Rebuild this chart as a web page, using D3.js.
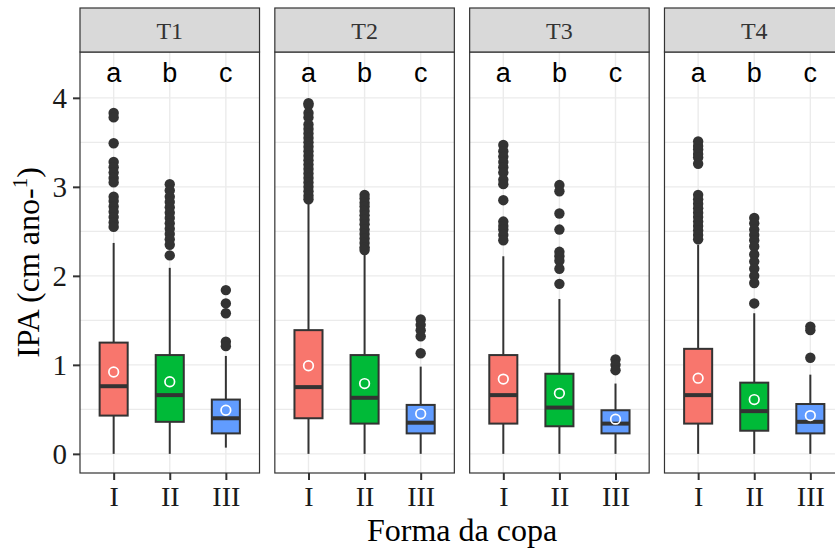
<!DOCTYPE html>
<html>
<head>
<meta charset="utf-8">
<script src="https://cdn.jsdelivr.net/npm/d3@7"></script>
<style>
  body { margin: 0; background: #fff; }
  svg { display: block; }
</style>
</head>
<body>
<script>
(function(){
   var width = 835;
   var height = 550;

   // facets, categories, colours
   var panels = ["T1", "T2", "T3", "T4"];
   var forms = ["I", "II", "III"];
   var letters = ["a", "b", "c"];
   var fills = ["#F8766D", "#00BA38", "#619CFF"];
   var yTicks = [0, 1, 2, 3, 4];

   // box statistics, [panel][form]
   var whiskerLow = [[0, 0, 0.07], [0, 0, 0], [0, 0, 0], [0, 0, 0]];
   var q1 = [[0.43, 0.36, 0.23], [0.40, 0.34, 0.23], [0.34, 0.31, 0.23], [0.34, 0.26, 0.23]];
   var medians = [[0.76, 0.66, 0.40], [0.75, 0.63, 0.35], [0.66, 0.52, 0.34], [0.66, 0.48, 0.36]];
   var q3 = [[1.25, 1.11, 0.61], [1.39, 1.11, 0.55], [1.11, 0.90, 0.49], [1.18, 0.80, 0.56]];
   var whiskerHigh = [[2.37, 2.09, 1.10], [2.84, 2.24, 0.98], [2.22, 1.74, 0.79], [2.35, 1.58, 0.89]];
   var means = [[0.92, 0.81, 0.49], [0.99, 0.79, 0.45], [0.84, 0.68, 0.39], [0.85, 0.61, 0.43]];
   var outliers = [
     [[3.83, 3.78, 3.49, 3.28, 3.22, 3.16, 3.10, 3.05, 2.89, 2.84, 2.78, 2.72, 2.66, 2.60, 2.55],
      [3.03, 2.96, 2.89, 2.83, 2.77, 2.71, 2.65, 2.59, 2.53, 2.47, 2.41, 2.35, 2.23],
      [1.84, 1.69, 1.58, 1.26, 1.21]],
     [[3.94, 3.92, 3.83, 3.78, 3.70, 3.65, 3.60, 3.55, 3.50, 3.45, 3.40, 3.35, 3.30, 3.25, 3.20, 3.15, 3.10, 3.05, 3.00, 2.95, 2.90, 2.86],
      [2.91, 2.87, 2.82, 2.78, 2.73, 2.68, 2.63, 2.58, 2.52, 2.47, 2.42, 2.37, 2.32, 2.29],
      [1.51, 1.45, 1.39, 1.32, 1.13]],
     [[3.47, 3.40, 3.34, 3.28, 3.22, 3.16, 3.08, 3.03, 2.85, 2.61, 2.56, 2.52, 2.46, 2.40],
      [3.02, 2.95, 2.70, 2.52, 2.27, 2.22, 2.17, 2.08, 1.91],
      [1.06, 1.00, 0.94]],
     [[3.51, 3.46, 3.42, 3.37, 3.33, 3.26, 2.91, 2.86, 2.81, 2.76, 2.71, 2.66, 2.61, 2.56, 2.51, 2.46, 2.41],
      [2.65, 2.59, 2.52, 2.46, 2.40, 2.33, 2.24, 2.16, 2.08, 2.00, 1.92, 1.69],
      [1.43, 1.39, 1.08]]
   ];

   var top = 52, bottom = 473, left = 80, right = 844;

   var svg = d3.select("body").append("svg")
       .attr("width", width)
       .attr("height", height);

   var panelScale = d3.scaleBand()
       .domain(panels)
       .range([left, right])
       .paddingInner(0.0786)
       .paddingOuter(0);
   var pw = panelScale.bandwidth();

   var x = d3.scalePoint()
       .domain(forms)
       .range([0, pw])
       .padding(0.6);
   var step = x.step();
   var boxW = step * 0.5;

   var y = d3.scaleLinear()
       .domain([-0.215, 4.515])
       .range([bottom, top]);

   var serif = "'Liberation Serif', 'Times New Roman', serif";
   var sans = "'Liberation Sans', Arial, sans-serif";

   panels.forEach(function(p, pi){
       var g = svg.append("g")
           .attr("transform", "translate(" + panelScale(p) + ",0)");

       g.append("rect")
           .attr("x", 0).attr("y", top)
           .attr("width", pw).attr("height", bottom - top)
           .attr("fill", "#fff");

       // grid
       var minor = d3.range(0.5, 4.5, 1);
       g.selectAll(".minor").data(minor).enter().append("line")
           .attr("x1", 0).attr("x2", pw)
           .attr("y1", d => y(d)).attr("y2", d => y(d))
           .attr("stroke", "#EBEBEB").attr("stroke-width", 1.1);
       g.selectAll(".major").data(yTicks).enter().append("line")
           .attr("x1", 0).attr("x2", pw)
           .attr("y1", d => y(d)).attr("y2", d => y(d))
           .attr("stroke", "#EBEBEB").attr("stroke-width", 1.4);
       g.selectAll(".vgrid").data(forms).enter().append("line")
           .attr("x1", d => x(d)).attr("x2", d => x(d))
           .attr("y1", top).attr("y2", bottom)
           .attr("stroke", "#EBEBEB").attr("stroke-width", 1.4);

       forms.forEach(function(f, fi){
           var cx = x(f);
           // whiskers
           g.append("line")
               .attr("x1", cx).attr("x2", cx)
               .attr("y1", y(q3[pi][fi])).attr("y2", y(whiskerHigh[pi][fi]))
               .attr("stroke", "#333").attr("stroke-width", 2);
           g.append("line")
               .attr("x1", cx).attr("x2", cx)
               .attr("y1", y(q1[pi][fi])).attr("y2", y(whiskerLow[pi][fi]))
               .attr("stroke", "#333").attr("stroke-width", 2);
           // box
           g.append("rect")
               .attr("x", cx - boxW / 2)
               .attr("y", y(q3[pi][fi]))
               .attr("width", boxW)
               .attr("height", y(q1[pi][fi]) - y(q3[pi][fi]))
               .attr("fill", fills[fi])
               .attr("stroke", "#333").attr("stroke-width", 2);
           g.append("line")
               .attr("x1", cx - boxW / 2).attr("x2", cx + boxW / 2)
               .attr("y1", y(medians[pi][fi])).attr("y2", y(medians[pi][fi]))
               .attr("stroke", "#333").attr("stroke-width", 4);
           // outliers
           g.selectAll(null).data(outliers[pi][fi]).enter().append("circle")
               .attr("cx", cx).attr("cy", d => y(d))
               .attr("r", 5.2)
               .attr("fill", "#333");
           // mean
           g.append("circle")
               .attr("cx", cx).attr("cy", y(means[pi][fi]))
               .attr("r", 4.8)
               .attr("fill", "none")
               .attr("stroke", "#fff").attr("stroke-width", 1.7);
           // letter
           g.append("text")
               .attr("x", cx).attr("y", 81.5)
               .attr("text-anchor", "middle")
               .attr("font-family", sans)
               .attr("font-size", 27)
               .attr("fill", "#000")
               .text(letters[fi]);
       });

       // panel border
       g.append("rect")
           .attr("x", 0).attr("y", top)
           .attr("width", pw).attr("height", bottom - top)
           .attr("fill", "none")
           .attr("stroke", "#333").attr("stroke-width", 1.2);

       // strip
       g.append("rect")
           .attr("x", 0).attr("y", 8)
           .attr("width", pw).attr("height", top - 8)
           .attr("fill", "#D9D9D9")
           .attr("stroke", "#333").attr("stroke-width", 1.2);
       g.append("text")
           .attr("x", pw / 2).attr("y", 38.5)
           .attr("text-anchor", "middle")
           .attr("font-family", serif)
           .attr("font-size", 24)
           .attr("fill", "#333")
           .text(p);

       // x axis
       var xa = g.append("g")
           .attr("transform", "translate(0," + bottom + ")")
           .call(d3.axisBottom(x).tickSize(7).tickPadding(6));
       xa.select(".domain").remove();
       xa.selectAll(".tick line").attr("stroke", "#333").attr("stroke-width", 2);
       xa.selectAll(".tick text")
           .attr("font-family", serif)
           .attr("font-size", 28)
           .attr("fill", "#1A1A1A");
   });

   // y axis
   var ya = svg.append("g")
       .attr("transform", "translate(" + left + ",0)")
       .call(d3.axisLeft(y).tickValues(yTicks).tickFormat(d3.format("d")).tickSize(7).tickPadding(6));
   ya.select(".domain").remove();
   ya.selectAll(".tick line").attr("stroke", "#333").attr("stroke-width", 2);
   ya.selectAll(".tick text")
       .attr("font-family", serif)
       .attr("font-size", 29)
       .attr("fill", "#1A1A1A");

   // axis titles
   svg.append("text")
       .attr("x", (left + right) / 2).attr("y", 541)
       .attr("text-anchor", "middle")
       .attr("font-family", serif)
       .attr("font-size", 32)
       .attr("fill", "#000")
       .text("Forma da copa");

   var yt = svg.append("text")
       .attr("transform", "translate(39," + (top + bottom) / 2 + ") rotate(-90)")
       .attr("text-anchor", "middle")
       .attr("font-family", serif)
       .attr("font-size", 32)
       .attr("fill", "#000");
   yt.append("tspan").text("IPA (cm ano-");
   yt.append("tspan").attr("dy", -12).attr("font-size", 21).text("1");
   yt.append("tspan").attr("dy", 12).text(")");
})();
</script>
</body>
</html>
